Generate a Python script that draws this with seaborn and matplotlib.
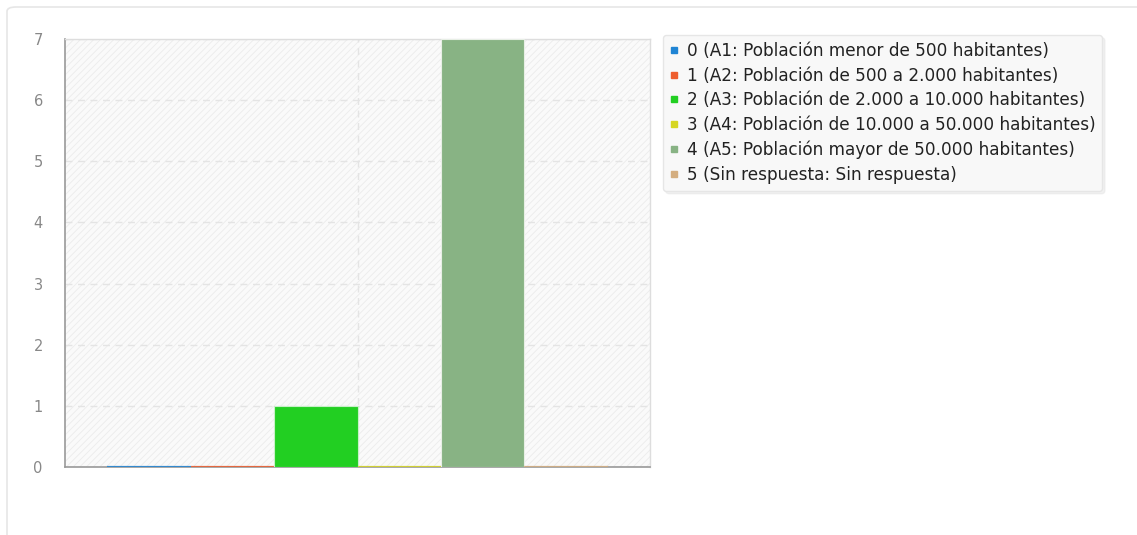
import os
import matplotlib
matplotlib.use("Agg")
import matplotlib.pyplot as plt
from matplotlib import font_manager
from matplotlib.lines import Line2D
from matplotlib.patches import FancyBboxPatch, Rectangle
import pandas as pd
import seaborn as sns

# Data
labels = [
    "0 (A1: Población menor de 500 habitantes)",
    "1 (A2: Población de 500 a 2.000 habitantes)",
    "2 (A3: Población de 2.000 a 10.000 habitantes)",
    "3 (A4: Población de 10.000 a 50.000 habitantes)",
    "4 (A5: Población mayor de 50.000 habitantes)",
    "5 (Sin respuesta: Sin respuesta)",
]
counts = [0, 0, 1, 0, 7, 0]
colors = ["#1f84d4", "#ee5d2e", "#22cf22", "#d6d622", "#88b384", "#d4ae80"]

df = pd.DataFrame({"grupo": [""] * len(labels), "serie": labels, "n": counts})

# DejaVu Sans from matplotlib's own font folder
dejavu = os.path.join(matplotlib.get_data_path(), "fonts", "ttf", "DejaVuSans.ttf")

sns.set_style("white")
plt.rcParams["font.family"] = ["DejaVu Sans"]
plt.rcParams["hatch.linewidth"] = 0.6
plt.rcParams["hatch.color"] = "#ebebeb"

leg_font = font_manager.FontProperties(fname=dejavu, size=12.2)
tick_font = font_manager.FontProperties(fname=dejavu, size=10.5)

fig = plt.figure(figsize=(11.37, 5.35), dpi=100)
ax = fig.add_axes([65 / 1137, 1 - 467 / 535, 585 / 1137, 428 / 535])

# outer card
card = FancyBboxPatch((7 / 1137, -0.05), 1.2, 1 - 7 / 535 + 0.05,
                      boxstyle="round,pad=0,rounding_size=0.008",
                      transform=fig.transFigure, facecolor="white",
                      edgecolor="#e6e6e6", linewidth=1.2, zorder=-10)
fig.patches.append(card)

# hatched plot background
ax.set_facecolor("#fafafa")
ax.add_patch(Rectangle((0, 0), 1, 1, transform=ax.transAxes, facecolor="none",
                       hatch="/////", edgecolor="#ececec", linewidth=0, zorder=0))

sns.barplot(data=df, x="grupo", y="n", hue="serie", hue_order=labels,
            palette=colors, saturation=1, width=0.855, legend=False, ax=ax, zorder=3)

for bar, c, v in zip(ax.patches[1:], colors, counts):
    if v == 0:
        bar.set_edgecolor(c)
        bar.set_linewidth(1.6)
        bar.set_alpha(0.85)
    else:
        bar.set_edgecolor("#c8f0c8" if c == "#22cf22" else "#e8efe6")
        bar.set_linewidth(0.8)

ax.set_xlim(-0.5, 0.5)
ax.set_ylim(0, 7)
ax.set_yticks(range(0, 8))
ax.set_xticks([0])
ax.set_xticklabels([""])
ax.set_xlabel("")
ax.set_ylabel("")
ax.tick_params(axis="y", colors="#999999", labelcolor="#888888",
               length=6, width=1, direction="out", pad=10)
for t in ax.get_yticklabels():
    t.set_fontproperties(tick_font)
ax.tick_params(axis="x", length=0)

ax.grid(True, axis="both", linestyle=(0, (5, 4)), color="#e4e4e4", linewidth=1, zorder=1)
ax.set_axisbelow(True)

for side in ["top", "right"]:
    ax.spines[side].set_color("#dddddd")
    ax.spines[side].set_linewidth(1)
ax.spines["left"].set_color("#999999")
ax.spines["bottom"].set_color("#999999")
ax.spines["left"].set_linewidth(1.2)
ax.spines["bottom"].set_linewidth(1.2)

handles = [Line2D([], [], marker="s", linestyle="none", markersize=4.5,
                  markerfacecolor=c, markeredgecolor=c) for c in colors]
leg = fig.legend(handles, labels, loc="upper left",
                 bbox_to_anchor=(663 / 1137, 1 - 35 / 535),
                 prop=leg_font, frameon=True, fancybox=True,
                 shadow={"color": "#e2e2e2", "alpha": 0.45},
                 handlelength=0.5, handletextpad=0.5, labelspacing=0.4,
                 borderpad=0.4, borderaxespad=0, labelcolor="#222222")
leg.get_frame().set_facecolor("#f8f8f8")
leg.get_frame().set_edgecolor("#e6e6e6")

fig.savefig("out.png", dpi=100)
